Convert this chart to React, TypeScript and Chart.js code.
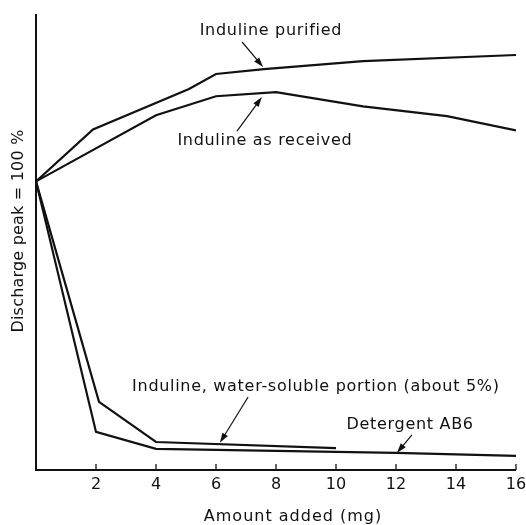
import React, { useEffect, useRef } from "react";
import { Chart, registerables } from "chart.js";

Chart.register(...registerables);

// Amount added (mg) and discharge peak (% of initial)
const purifiedX = [0, 1.9, 5.1, 6, 7.6, 10.9, 16];
const purifiedY = [100, 118, 132, 137.2, 138.9, 141.7, 143.8];

const receivedX = [0, 4, 6, 8, 10.9, 13.7, 16];
const receivedY = [100, 122.9, 129.5, 130.9, 126, 122.6, 117.7];

const waterX = [0, 2.1, 4, 10];
const waterY = [100, 23.6, 9.7, 7.6];

const detergentX = [0, 2, 4, 12, 16];
const detergentY = [100, 13.2, 7.3, 5.9, 4.9];

const xTicks = [2, 4, 6, 8, 10, 12, 14, 16];

// annotations: label, label position (data units), arrow start, arrow end
const annLabels = [
  "Induline purified",
  "Induline as received",
  "Induline, water-soluble portion (about 5%)",
  "Detergent AB6",
];
const annTextPos = [
  [7.83, 152.1],
  [7.63, 113.9],
  [9.33, 28.8],
  [12.47, 15.6],
];
const annArrowFrom = [
  [6.87, 148.3],
  [6.7, 117.4],
  [7.07, 25.3],
  [12.53, 12.2],
];
const annArrowTo = [
  [7.57, 139.6],
  [7.53, 129.2],
  [6.13, 9.4],
  [12.03, 5.9],
];

const xTitle = "Amount added (mg)";
const yTitle = "Discharge peak = 100 %";

const FONT = "DejaVu Sans";
const INK = "#111";

function pts(xs: number[], ys: number[]) {
  return xs.map((x, i) => ({ x, y: ys[i] }));
}

function drawSpaced(ctx: CanvasRenderingContext2D, text: string, x: number, y: number, spacing: number) {
  (ctx as any).letterSpacing = spacing + "px";
  ctx.fillText(text, x, y);
  (ctx as any).letterSpacing = "0px";
}

const decorPlugin = {
  id: "decor",
  beforeDatasetsDraw(chart: any) {
    const { ctx, chartArea, scales } = chart;
    const xs = scales.x;
    ctx.save();
    ctx.strokeStyle = INK;
    ctx.lineWidth = 2;
    ctx.beginPath();
    ctx.moveTo(chartArea.left, chartArea.top);
    ctx.lineTo(chartArea.left, chartArea.bottom);
    ctx.lineTo(chartArea.right, chartArea.bottom);
    ctx.stroke();
    ctx.lineWidth = 1.3;
    for (const t of xTicks) {
      const px = xs.getPixelForValue(t);
      ctx.beginPath();
      ctx.moveTo(px, chartArea.bottom);
      ctx.lineTo(px, chartArea.bottom - 6);
      ctx.stroke();
    }
    ctx.restore();
  },
  afterDraw(chart: any) {
    const { ctx, chartArea, scales } = chart;
    const xs = scales.x;
    const ys = scales.y;
    ctx.save();
    ctx.fillStyle = INK;
    ctx.strokeStyle = INK;
    ctx.textAlign = "center";
    ctx.textBaseline = "middle";
    ctx.font = `16px "${FONT}"`;
    annLabels.forEach((label, i) => {
      const tx = xs.getPixelForValue(annTextPos[i][0]);
      const ty = ys.getPixelForValue(annTextPos[i][1]);
      drawSpaced(ctx, label, tx, ty, 0.7);
      const x1 = xs.getPixelForValue(annArrowFrom[i][0]);
      const y1 = ys.getPixelForValue(annArrowFrom[i][1]);
      const x2 = xs.getPixelForValue(annArrowTo[i][0]);
      const y2 = ys.getPixelForValue(annArrowTo[i][1]);
      const ang = Math.atan2(y2 - y1, x2 - x1);
      const hl = 10;
      const hw = 3.2;
      ctx.lineWidth = 1.2;
      ctx.beginPath();
      ctx.moveTo(x1, y1);
      ctx.lineTo(x2 - Math.cos(ang) * hl * 0.8, y2 - Math.sin(ang) * hl * 0.8);
      ctx.stroke();
      const bx = x2 - Math.cos(ang) * hl;
      const by = y2 - Math.sin(ang) * hl;
      ctx.beginPath();
      ctx.moveTo(x2, y2);
      ctx.lineTo(bx - Math.sin(ang) * hw, by + Math.cos(ang) * hw);
      ctx.lineTo(bx + Math.sin(ang) * hw, by - Math.cos(ang) * hw);
      ctx.closePath();
      ctx.fill();
    });
    // axis titles
    ctx.font = `16px "${FONT}"`;
    drawSpaced(ctx, xTitle, (chartArea.left + chartArea.right) / 2 + 17, chartArea.bottom + 47, 1);
    ctx.translate(19, (chartArea.top + chartArea.bottom) / 2 - 11);
    ctx.rotate(-Math.PI / 2);
    drawSpaced(ctx, yTitle, 0, 0, 0.2);
    ctx.restore();
  },
};

export default function App() {
  const ref = useRef<HTMLCanvasElement | null>(null);
  useEffect(() => {
    if (!ref.current) return;
    const line = (xs: number[], ys: number[]) => ({
      data: pts(xs, ys),
      borderColor: INK,
      borderWidth: 2.2,
      pointRadius: 0,
      tension: 0,
      fill: false,
    });
    const chart = new Chart(ref.current, {
      type: "line",
      data: {
        datasets: [
          line(purifiedX, purifiedY),
          line(receivedX, receivedY),
          line(waterX, waterY),
          line(detergentX, detergentY),
        ] as any,
      },
      options: {
        animation: false,
        responsive: false,
        devicePixelRatio: 1,
        layout: { padding: { left: 36, right: 10, top: 14, bottom: 0 } },
        plugins: { legend: { display: false }, tooltip: { enabled: false } },
        scales: {
          x: {
            type: "linear",
            min: 0,
            max: 16,
            grid: { display: false },
            border: { display: false },
            ticks: {
              stepSize: 2,
              padding: -3,
              color: INK,
              font: { family: FONT, size: 16 },
              callback: (v: any) => (v === 0 ? "" : String(v)),
            },
            afterFit: (s: any) => {
              s.height = 55;
              s.paddingLeft = 0;
              s.paddingRight = 0;
            },
          },
          y: { type: "linear", min: 0, max: 158, display: false },
        },
      } as any,
      plugins: [decorPlugin],
    });
    return () => chart.destroy();
  }, []);
  return (
    <div style={{ position: "fixed", left: 0, top: 0, width: 526, height: 525, background: "#fff" }}>
      <canvas ref={ref} width={526} height={525} />
    </div>
  );
}
